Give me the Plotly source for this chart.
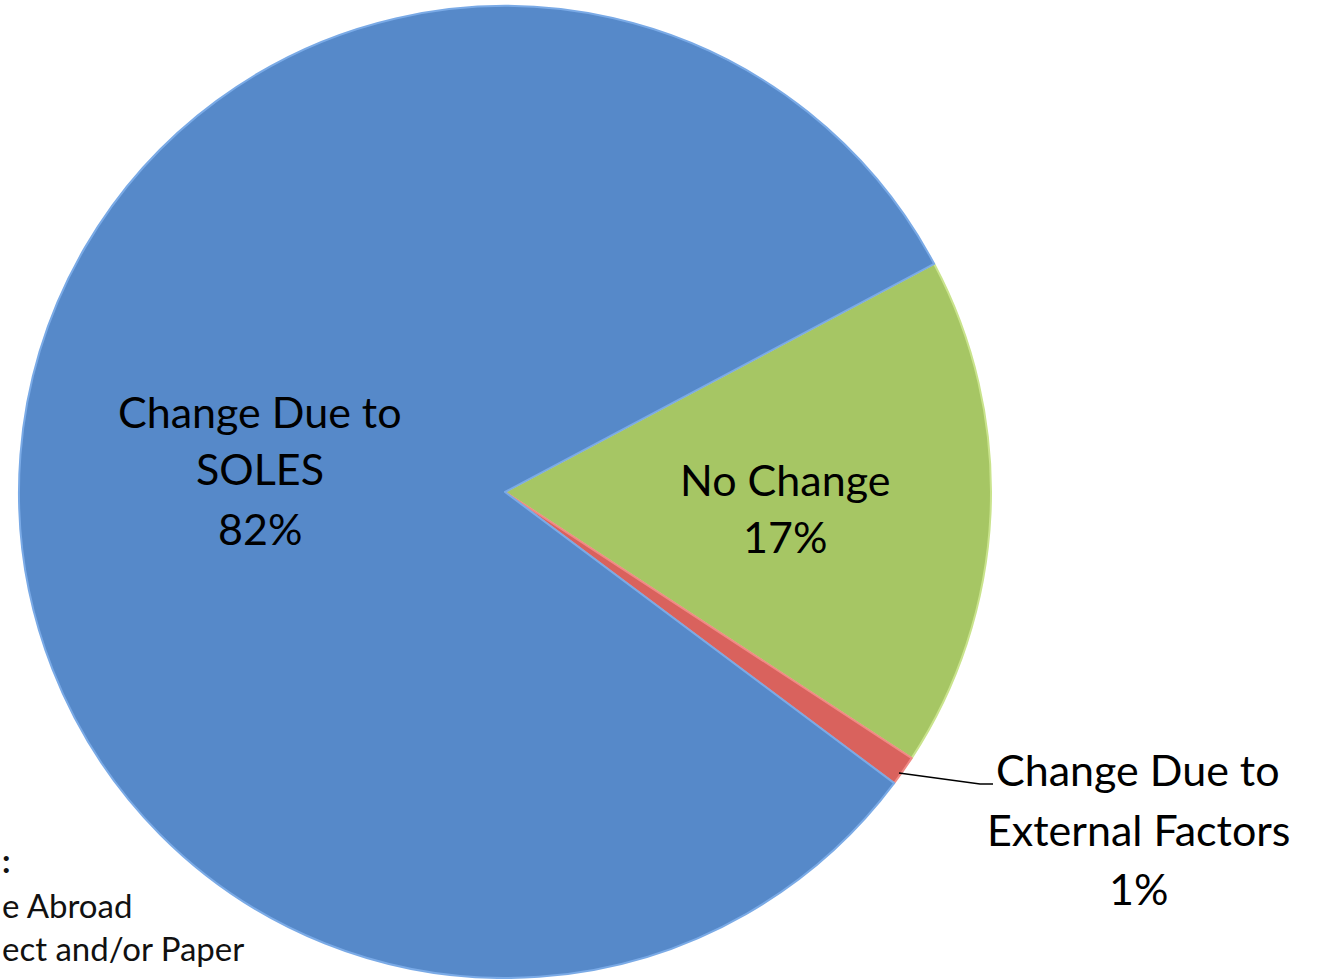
import plotly.graph_objects as go

# ---- data ----
labels = ["No Change", "Change Due to External Factors", "Change Due to SOLES"]
values = [17, 1, 82]
colors = ["#A6C664", "#D9625D", "#5689C9"]
edge_colors = ["#C9E38C", "#F08A85", "#7AAAE6"]
label_lines = [["No Change"], ["Change Due to", "External Factors"], ["Change Due to", "SOLES"]]
side_lines = [":", "e Abroad", "ect and/or Paper"]

W, H = 1319, 979
FONT = "Lato"

def px(x):
    return x / W

def py(y):
    return 1 - y / H

fig = go.Figure()
fig.add_trace(go.Pie(
    labels=labels,
    values=values,
    sort=False,
    direction="clockwise",
    rotation=62,
    marker=dict(colors=colors, line=dict(color=edge_colors, width=2)),
    textinfo="none",
    hoverinfo="label+percent",
    showlegend=False,
    domain=dict(x=[px(19), px(991)], y=[py(978), py(6)]),
))

# label placement (pixel centres of each line)
label_pos = [
    (785, [479, 536]),
    (1138, [769, 829, 888]),
    (260, [412, 469, 528]),
]
annotations = []
for lines, val, (cx, ys) in zip(label_lines, values, label_pos):
    for text, y in zip(lines + [f"{val}%"], ys):
        annotations.append(dict(
            x=px(cx), y=py(y), xref="paper", yref="paper",
            text=text, showarrow=False, xanchor="center", yanchor="middle",
            font=dict(family=FONT, size=43, color="#000000"),
        ))

# side text fragments at bottom-left
side_pos = [(0, 860), (0, 905), (0, 948)]
for i, (text, (lx, y)) in enumerate(zip(side_lines, side_pos)):
    annotations.append(dict(
        x=px(lx), y=py(y), xref="paper", yref="paper",
        text=f"<b>{text}</b>" if i == 0 else text, showarrow=False,
        xanchor="left", yanchor="middle",
        font=dict(family=FONT, size=33, color="#111111"),
    ))

fig.update_layout(
    width=W, height=H,
    margin=dict(l=0, r=0, t=0, b=0),
    paper_bgcolor="white", plot_bgcolor="white",
    annotations=annotations,
    shapes=[
        dict(type="path", xref="paper", yref="paper",
             path=f"M {px(899)} {py(773)} L {px(980)} {py(784)} L {px(993)} {py(784)}",
             line=dict(color="#000000", width=1.5)),
    ],
)

fig.write_html("out.html", config={"displayModeBar": False},
               post_script="document.body.style.margin='0';")
